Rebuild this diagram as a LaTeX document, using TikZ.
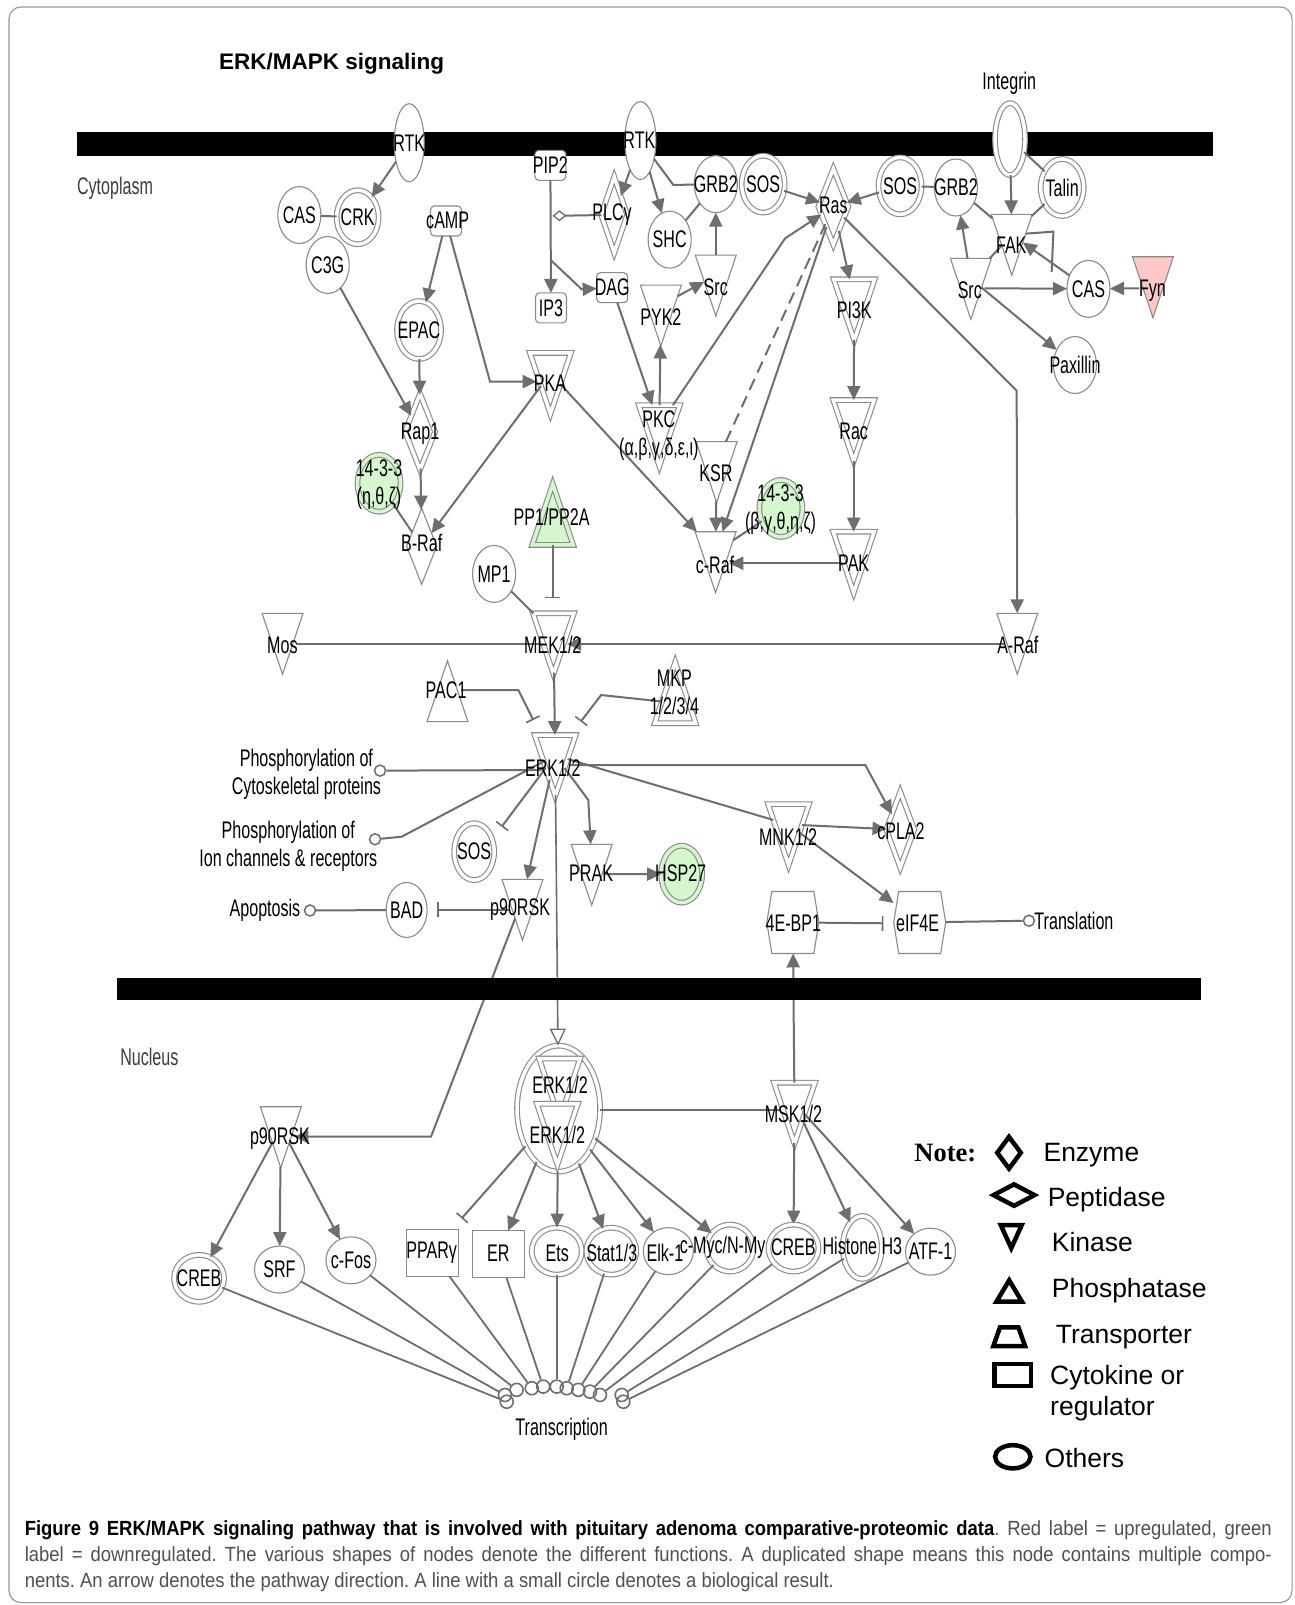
\documentclass[tikz,border=0pt]{standalone}
\usepackage{fontspec}
\setmainfont{Liberation Sans}
\newfontfamily\nar[FakeStretch=0.67]{Liberation Sans}
\newfontfamily\capf[FakeStretch=0.9]{Liberation Sans}
\newfontfamily\notef{Liberation Serif}
\usetikzlibrary{shapes.geometric,arrows.meta}
\pgfdeclarelayer{back}
\pgfdeclarelayer{memba}
\pgfdeclarelayer{conn}
\pgfdeclarelayer{membb}
\pgfdeclarelayer{front}
\pgfdeclarelayer{top}
\pgfsetlayers{back,memba,main,conn,membb,front,top}
\definecolor{ec}{RGB}{110,110,110}
\definecolor{nc}{RGB}{138,138,138}
\definecolor{gfill}{RGB}{214,246,208}
\definecolor{rfill}{RGB}{255,200,200}
\definecolor{txtgray}{RGB}{60,60,60}
\definecolor{capgray}{RGB}{80,80,80}
\tikzset{
  shp/.style={draw=nc, line width=1.1pt, fill=white, inner sep=0pt, outer sep=0pt},
  dbl/.style={double=#1, double distance=3.5pt},
  dbl/.default=white,
  kin/.style={shp, regular polygon, regular polygon sides=3, shape border rotate=180, minimum size=47.3pt, yscale=1.718},
  pho/.style={shp, regular polygon, regular polygon sides=3, minimum size=47.3pt, yscale=1.718},
  enz/.style={shp, diamond, minimum width=30pt, minimum height=76pt},
  oth/.style={shp, ellipse, minimum width=43pt, minimum height=57pt},
  nuo/.style={shp, ellipse, minimum width=50pt, minimum height=47pt},
  chem/.style={shp, rectangle, rounded corners=4pt, minimum width=31pt, minimum height=30pt},
  cyt/.style={shp, rectangle, minimum width=52pt, minimum height=47pt},
  hexa/.style={rectangle, minimum width=52pt, minimum height=62pt, inner sep=0pt, outer sep=0pt},
  rc/.style={circle, draw=ec, line width=1.5pt, fill=white, minimum size=11pt, inner sep=0pt},
  tc/.style={circle, draw=ec, line width=1.6pt, minimum size=13pt, inner sep=0pt},
  lbl/.style={font={\nar\fontsize{24}{28}\selectfont}, inner sep=0pt, align=center},
  ln/.style={draw=ec, line width=2pt},
  arr/.style={ln, -{Triangle[length=14pt,width=13pt]}},
  inh/.style={ln, -{Bar[width=15pt,line width=1.6pt]}},
  oarr/.style={draw=ec, line width=1.6pt, -{Triangle[open,length=17pt,width=16pt,line width=1.3pt]}},
  lgs/.style={draw=black, line width=4.5pt},
  lgt/.style={font=\fontsize{26.5}{30}\selectfont, anchor=west, inner sep=0pt},
  capt/.style={anchor=base west, inner sep=0pt, font={\capf\fontsize{20.5}{25}\selectfont\frenchspacing}},
}
\newcommand\lab[4]{\node[lbl] (#1) at (#2,#3) {#4};}
\begin{document}
\begin{tikzpicture}[x=1.023pt, y=-1.023pt]
\useasboundingbox (0,0) rectangle (1264.9,1568.9);
\begin{pgfonlayer}{back}
\fill[white] (0,0) rectangle (1264.9,1568.9);
\draw[draw=nc!90, line width=1.1pt, rounded corners=12pt] (8.8,6.8) rectangle (1263,1566.5);
\end{pgfonlayer}
\begin{pgfonlayer}{memba}
\fill[black] (75.6,129.4) rectangle (1186,152.5);
\end{pgfonlayer}
\begin{pgfonlayer}{membb}
\fill[black] (114.7,955.8) rectangle (1174,977.5);
\end{pgfonlayer}

% ---------------- nodes: cytoplasm ----------------
\node[shp, ellipse, minimum width=30pt, minimum height=78pt] (RTK1) at (400,139.5) {};
\node[shp, ellipse, minimum width=31pt, minimum height=78pt] (RTK2) at (626,137.4) {};
\node[oth] (CAS1) at (292.6,210.2) {};
\node[oth, dbl, minimum width=42pt, minimum height=54pt] (CRK) at (349.6,212.4) {};
\node[oth] (C3G) at (320.3,259) {};
\node[chem] (cAMP) at (436,216) {};
\node[oth, dbl, minimum width=44pt, minimum height=58pt] (EPAC) at (409.6,322.6) {};
\node[enz, dbl] (Rap1) at (410.6,422) {};
\node[oth, dbl=gfill, fill=gfill] (G1433a) at (370.5,472.4) {};
\node[enz] (BRaf) at (412.2,534) {};
\node[kin, dbl] (PKA) at (538,364.9) {};
\node[chem] (PIP2) at (538,161.6) {};
\node[enz, dbl, minimum width=26pt] (PLC) at (600.4,210) {};
\node[oth] (SHC) at (654.6,234.3) {};
\node[oth] (GRB2a) at (699.7,180) {};
\node[oth, dbl] (SOSa) at (746,180) {};
\node[enz, dbl] (Ras) at (814.6,202) {};
\node[chem] (IP3) at (538.6,301) {};
\node[chem] (DAG) at (598.4,281.2) {};
\node[kin] (PYK2) at (646,298.5) {};
\node[kin] (Src1) at (699.7,269.2) {};
\node[kin, dbl] (PI3K) at (835,292.9) {};
\node[kin, dbl] (PKC) at (644.5,415.9) {};
\node[kin] (KSR) at (700.5,451.6) {};
\node[oth, dbl=gfill, fill=gfill] (G1433b) at (763.3,497) {};
\node[kin] (cRaf) at (699.5,539.6) {};
\node[kin, dbl] (Rac) at (834.5,410.9) {};
\node[kin, dbl] (PAK) at (834.5,539.6) {};
\node[pho, dbl=gfill, fill=gfill] (PP1) at (540.3,512.8) {};
\node[oth] (MP1) at (483,561) {};
\node[oth, dbl] (SOSb) at (879.8,181.7) {};
\node[oth] (GRB2b) at (934.4,183.3) {};
\node[shp, ellipse, dbl, minimum width=30pt, minimum height=72pt] (Integrin) at (987.3,136) {};
\node[oth, dbl] (Talin) at (1038.3,183.3) {};
\node[kin] (FAK) at (989,229.4) {};
\node[kin] (Src2) at (949,272.4) {};
\node[oth] (CAS2) at (1064,282.4) {};
\node[kin, fill=rfill] (Fyn) at (1127,270.8) {};
\node[oth] (Paxillin) at (1050.8,356.8) {};
% ---------------- nodes: middle ----------------
\node[kin] (Mos) at (276.2,619.4) {};
\node[kin, dbl] (MEK) at (541,619.4) {};
\node[kin] (ARaf) at (994.4,619.4) {};
\node[pho] (PAC1) at (437.4,685.6) {};
\node[pho, dbl] (MKP) at (660,687.1) {};
\node[kin, dbl] (ERK) at (542.7,738.4) {};
\node[oth, dbl, minimum width=40pt] (SOSc) at (463.5,832.5) {};
\node[kin] (p90a) at (510.7,879.4) {};
\node[kin] (PRAK) at (578.4,845.2) {};
\node[oth, dbl=gfill, fill=gfill, minimum width=41pt] (HSP27) at (666.3,854.5) {};
\node[kin, dbl] (MNK) at (770.8,805.9) {};
\node[enz, dbl, minimum width=28pt] (cPLA2) at (880,811) {};
\node[oth, minimum width=41pt, minimum height=55pt] (BAD) at (397.5,889.5) {};
\node[hexa] (ebp) at (775,901.7) {};
\node[hexa] (eif) at (899,901.7) {};
\draw[shp] ([xshift=5pt]ebp.north west) -- ([xshift=-5pt]ebp.north east) -- (ebp.east) -- ([xshift=-5pt]ebp.south east) -- ([xshift=5pt]ebp.south west) -- (ebp.west) -- cycle;
\draw[shp] ([xshift=5pt]eif.north west) -- ([xshift=-5pt]eif.north east) -- (eif.east) -- ([xshift=-5pt]eif.south east) -- ([xshift=5pt]eif.south west) -- (eif.west) -- cycle;
\node[rc] (rCyto) at (371.5,753.3) {};
\node[rc] (rIon) at (366.6,820.4) {};
\node[rc] (rApo) at (303,890) {};
\node[rc] (rTr) at (1005.8,900) {};
% ---------------- nodes: nucleus ----------------
\node[shp, ellipse, dbl, minimum width=83pt, minimum height=126pt] (ERKc) at (546,1083.7) {};
\node[kin, dbl] (ERKn1) at (547,1054.6) {};
\node[kin, dbl] (ERKn2) at (544.8,1098.8) {};
\node[kin, dbl] (MSK) at (776.6,1078.2) {};
\node[kin] (p90b) at (274.5,1101.7) {};
\node[nuo, dbl] (CREBa) at (194.6,1249.6) {};
\node[nuo] (SRF) at (273.2,1241) {};
\node[nuo] (cFos) at (343.1,1232) {};
\node[cyt] (PPAR) at (422.4,1224.5) {};
\node[cyt] (ER) at (487.3,1226) {};
\node[nuo, dbl] (Ets) at (544.2,1223) {};
\node[nuo, dbl] (Stat) at (597.6,1223) {};
\node[nuo] (Elk) at (653.3,1223) {};
\node[nuo, dbl, minimum width=47pt] (cMyc) at (713.6,1220) {};
\begin{pgfonlayer}{top}
\node[nuo, dbl] (CREBb) at (775.6,1220) {};
\lab{lCREBb}{775.5}{1219.4}{CREB}
\end{pgfonlayer}
\node[shp, ellipse, dbl, minimum width=39pt, minimum height=63pt] (Hist) at (842.8,1219.4) {};
\node[nuo] (ATF) at (909.6,1223.5) {};
\node[tc] (t1) at (495.3,1370.2) {};
\node[tc] (t2) at (493.6,1363.6) {};
\node[tc] (t3) at (505,1358.6) {};
\node[tc] (t4) at (519.8,1357) {};
\node[tc] (t5) at (531,1355.4) {};
\node[tc] (t6) at (544.2,1355.4) {};
\node[tc] (t7) at (554,1357) {};
\node[tc] (t8) at (565.3,1358.6) {};
\node[tc] (t9) at (576.7,1360.3) {};
\node[tc] (t10) at (586.5,1363.6) {};
\node[tc] (t11) at (607.7,1363.6) {};
\node[tc] (t12) at (609.3,1370.2) {};

% ---------------- connectors ----------------
\begin{pgfonlayer}{conn}
\draw[arr] (RTK1) -- (CRK);
\draw[ln] (CAS1) -- (CRK);
\draw[arr] (C3G) -- (Rap1);
\draw[arr] (cAMP) -- (EPAC);
\draw[arr] (cAMP) -- (479,373) -- (PKA.180 |- 0,373);
\draw[arr] (EPAC) -- (Rap1);
\draw[arr] (Rap1) -- (BRaf);
\draw[arr] (PKA) -- (BRaf);
\draw[ln] (G1433a) -- (BRaf);
\draw[arr] (PKA) -- (cRaf);
\draw[arr] (PIP2) -- (IP3);
\coordinate (brP) at (538.3,254.2);
\draw[arr] (brP) -- (568.6,282.8) -- (DAG);
\coordinate (plcd) at (540,211);
\draw[ln, -{Diamond[open,length=14pt,width=11pt,line width=1.3pt]}] (PLC) -- (plcd);
\draw[arr] (RTK2) -- (PLC);
\draw[arr] (RTK2) -- (SHC);
\draw[ln] (RTK2) -- (658.2,180.8) -- (GRB2a);
\draw[ln] (SHC) -- (GRB2a);
\draw[arr] (SOSa) -- (Ras);
\draw[arr] (Src1) -- (GRB2a);
\draw[arr] (PYK2) -- (Src1);
\draw[arr] (DAG) -- (PKC);
\draw[arr] (PKC) -- (PYK2);
\draw[arr] (PKC) -- (767.4,233) -- (Ras);
\draw[arr] (Ras) -- (cRaf);
\draw[ln, dash pattern=on 12pt off 7pt] (KSR) -- (Ras);
\draw[arr] (KSR) -- (cRaf);
\draw[ln] (G1433b) -- (cRaf);
\draw[arr] (PAK.180 |- 0,550.6) -- (cRaf.0 |- 0,550.6);
\draw[arr] (Ras) -- (PI3K);
\draw[arr] (PI3K) -- (Rac);
\draw[arr] (Rac) -- (PAK);
\draw[arr] (Ras) -- (993.8,381.9) -- (ARaf);
\draw[arr] (SOSb) -- (Ras);
\draw[ln] (SOSb) -- (GRB2b);
\draw[ln] (GRB2b) -- (FAK);
\draw[arr] (Integrin) -- (FAK);
\draw[ln] (Integrin) -- (Talin);
\draw[ln] (Talin) -- (FAK);
\draw[arr] (Src2) -- (GRB2b);
\draw[ln] (Src2) -- (FAK);
\draw[arr] (Src2.0 |- 0,281.8) -- (CAS2);
\draw[arr] (Src2) -- (Paxillin);
\draw[arr] (CAS2) -- (FAK);
\draw[ln] (FAK) -- (1029.7,226.4) -- (1028,266);
\draw[arr] (Fyn.180 |- 0,281.8) -- (CAS2);
% middle
\coordinate (ppbar) at (540.3,585);
\draw[inh] (PP1) -- (ppbar);
\draw[ln] (MP1) -- (MEK);
\draw[ln] (Mos.0 |- 0,629.5) -- (MEK.180 |- 0,629.5);
\draw[arr] (ARaf.180 |- 0,629.5) -- (MEK.0 |- 0,629.5);
\coordinate (pacbar) at (521.3,703.8);
\draw[inh] (PAC1.0 |- 0,674.5) -- (506.7,674.5) -- (pacbar);
\coordinate (mkpbar) at (567.7,705.4);
\draw[inh] (MKP) -- (587.6,679.4) -- (mkpbar);
\draw[arr] (MEK) -- (ERK);
\draw[ln] (ERK.180 |- 0,752.7) -- (rCyto);
\draw[ln] (ERK) -- (392.6,817.9) -- (rIon);
\coordinate (sosbar) at (490.4,808.1);
\draw[inh] (ERK) -- (sosbar);
\draw[arr] (ERK) -- (p90a);
\draw[arr] (ERK) -- (575.1,782) -- (PRAK);
\draw[oarr] (ERK) -- (ERKc);
\draw[arr] (ERK.0 |- 0,747.8) -- (845.8,747.8) -- (cPLA2);
\draw[ln] (ERK) -- (MNK);
\draw[arr] (MNK) -- (cPLA2);
\draw[arr] (MNK) -- (eif);
\draw[arr] (PRAK.0 |- 0,854.4) -- (HSP27);
\coordinate (badbar) at (427.5,889.5);
\draw[inh] (p90a.180 |- 0,889.5) -- (badbar);
\draw[ln] (BAD) -- (rApo);
\coordinate (ebar) at (863.5,902.5);
\draw[inh] (ebp) -- (ebar);
\draw[ln] (eif) -- (rTr);
% nucleus
\draw[arr] (p90a) -- (421.3,1111.1) -- (p90b.0 |- 0,1111.1);
\draw[arr] (p90b) -- (CREBa);
\draw[arr] (p90b) -- (SRF);
\draw[arr] (p90b) -- (cFos);
\draw[ln] (ERKc.0 |- 0,1085.4) -- (MSK.180 |- 0,1085.4);
\draw[arr] (MSK) -- (ebp);
\coordinate (pparbar) at (451.3,1191);
\draw[inh] (ERKc) -- (pparbar);
\draw[arr] (ERKc) -- (ER);
\draw[arr] (ERKc) -- (Ets);
\draw[arr] (ERKc) -- (Stat);
\draw[arr] (ERKc) -- (Elk);
\draw[arr] (ERKc) -- (cMyc);
\draw[arr] (MSK) -- (CREBb);
\draw[arr] (MSK) -- (Hist);
\draw[arr] (MSK) -- (ATF);
\foreach \s/\t in {CREBa/t1, SRF/t2, cFos/t3, PPAR/t4, ER/t5, Ets/t6, Stat/t7, Elk/t8, cMyc/t9, CREBb/t10, Hist/t11, ATF/t12}
  \draw[ln, line width=1.8pt] (\s) -- (\t);
\end{pgfonlayer}

% ---------------- labels ----------------
\begin{pgfonlayer}{front}
\node[font=\bfseries\fontsize{22.5}{27}\selectfont, inner sep=0pt] (title) at (324.2,61.9) {ERK/MAPK signaling};
\node[lbl, text=txtgray] (cyto) at (112.4,184.1) {Cytoplasm};
\node[lbl, text=txtgray] (nucl) at (146,1033) {Nucleus};
\lab{lRTK1}{400}{140}{RTK}
\lab{lRTK2}{625}{137}{RTK}
\lab{lCAS1}{292.6}{210.2}{CAS}
\lab{lCRK}{349.6}{212.4}{CRK}
\lab{lC3G}{320.3}{259}{C3G}
\lab{lcAMP}{437.6}{215}{cAMP}
\lab{lEPAC}{409.6}{322.6}{EPAC}
\lab{lRap1}{410.6}{423.6}{Rap1}
\lab{l1433a}{370.5}{474}{14-3-3\\(η,θ,ζ)}
\lab{lBRaf}{412.2}{531}{B-Raf}
\lab{lPKA}{537.6}{374.8}{PKA}
\lab{lPIP2}{538}{161.6}{PIP2}
\lab{lPLC}{598.3}{210}{PLCγ}
\lab{lSHC}{654.6}{234.3}{SHC}
\lab{lGRB2a}{699.7}{180}{GRB2}
\lab{lSOSa}{746}{180}{SOS}
\lab{lRas}{814.6}{200.4}{Ras}
\lab{lIP3}{538.6}{301}{IP3}
\lab{lDAG}{598.4}{281.2}{DAG}
\lab{lPYK2}{646}{309.6}{PYK2}
\lab{lSrc1}{699.7}{280.6}{Src}
\lab{lPI3K}{835}{303}{PI3K}
\lab{lPKC}{644}{426}{PKC\\(α,β,γ,δ,ε,ι)}
\lab{lKSR}{699.9}{462.6}{KSR}
\lab{l1433b}{763}{498.5}{14-3-3\\(β,γ,θ,η,ζ)}
\lab{lcRaf}{698.9}{552.3}{c-Raf}
\lab{lRac}{834.5}{421.9}{Rac}
\lab{lPAK}{834.5}{551}{PAK}
\lab{lPP1}{539.2}{505}{PP1/PP2A}
\lab{lMP1}{483}{561}{MP1}
\lab{lSOSb}{879.8}{181.7}{SOS}
\lab{lGRB2b}{934.4}{183.3}{GRB2}
\lab{lInt}{986.6}{81.4}{Integrin}
\lab{lTalin}{1038.3}{183.3}{Talin}
\lab{lFAK}{988.5}{239.5}{FAK}
\lab{lSrc2}{948}{283.9}{Src}
\lab{lCAS2}{1064}{282.4}{CAS}
\lab{lFyn}{1126.6}{283.9}{Fyn}
\lab{lPax}{1050.8}{356.8}{Paxillin}
\lab{lMos}{276}{630.6}{Mos}
\lab{lMEK}{540.4}{630.6}{MEK1/2}
\lab{lARaf}{994.9}{630.5}{A-Raf}
\lab{lPAC1}{436}{674.5}{PAC1}
\lab{lMKP}{659.2}{677}{MKP\\1/2/3/4}
\lab{lERK}{540.4}{751.1}{ERK1/2}
\lab{lPhC}{299.5}{756.8}{Phosphorylation of\\Cytoskeletal proteins}
\lab{lPhI}{281.8}{826.9}{Phosphorylation of\\Ion channels \& receptors}
\lab{lSOSc}{463.5}{832.5}{SOS}
\lab{lp90a}{508.4}{889.3}{p90RSK}
\lab{lPRAK}{577.8}{853.9}{PRAK}
\lab{lHSP}{665.4}{853.7}{HSP27}
\lab{lMNK}{770.4}{817.9}{MNK1/2}
\lab{lcPLA}{880.7}{813}{cPLA2}
\lab{lBAD}{397.5}{889.5}{BAD}
\lab{lApo}{259}{889.5}{Apoptosis}
\lab{lebp}{775.5}{902.5}{4E-BP1}
\lab{leif}{897}{902.5}{eIF4E}
\node[lbl, anchor=west] (lTr) at (1011,900) {Translation};
\lab{lERKn1}{547.4}{1060.8}{ERK1/2}
\lab{lERKn2}{544.8}{1108.9}{ERK1/2}
\lab{lMSK}{775.5}{1089}{MSK1/2}
\lab{lp90b}{273.7}{1112.7}{p90RSK}
\lab{lCREBa}{194.6}{1249.6}{CREB}
\lab{lSRF}{273.2}{1241}{SRF}
\lab{lcFos}{343.1}{1232}{c-Fos}
\lab{lPPAR}{422}{1224.5}{PPARγ}
\lab{lER}{487.1}{1224.9}{ER}
\lab{lEts}{544.8}{1224.9}{Ets}
\lab{lStat}{598}{1224.9}{Stat1/3}
\lab{lElk}{650}{1224.9}{Elk-1}
\lab{lcMyc}{710.3}{1219.4}{c-Myc/N-Myc}
\lab{lHist}{843}{1218}{Histone H3}
\lab{lATF}{909.6}{1223.5}{ATF-1}
\lab{lTrans}{549}{1397}{Transcription}

% ---------------- legend ----------------
\node[font={\notef\bfseries\fontsize{26.5}{30}\selectfont}, inner sep=0pt] (note) at (924,1127.4) {Note:};
\draw[lgs] (986.3,1111.3) -- (997.8,1126.8) -- (986.3,1142.3) -- (974.8,1126.8) -- cycle;
\draw[lgs] (971.2,1168.2) -- (991.2,1157.7) -- (1011.2,1168.2) -- (991.2,1178.7) -- cycle;
\draw[lgs] (978.3,1197.6) -- (998.7,1197.6) -- (988.5,1220) -- cycle;
\draw[lgs] (986.5,1251.5) -- (999,1272.4) -- (974,1272.4) -- cycle;
\draw[lgs] (977.5,1297.4) -- (995.5,1297.4) -- (1002,1315.8) -- (971,1315.8) -- cycle;
\draw[lgs] (972.2,1333.2) rectangle (1007.8,1354.8);
\draw[lgs] (990,1424) ellipse [x radius=17.7pt, y radius=11.6pt];
\node[lgt] (tE) at (1019.9,1129) {Enzyme};
\node[lgt] (tP) at (1024,1173) {Peptidase};
\node[lgt] (tK) at (1028,1213.8) {Kinase};
\node[lgt] (tPh) at (1028,1262) {Phosphatase};
\node[lgt] (tT) at (1032,1306.6) {Transporter};
\node[lgt] (tC) at (1026.4,1346.4) {Cytokine or};
\node[lgt] (tR) at (1026.4,1376.7) {regulator};
\node[lgt] (tO) at (1021,1425.6) {Others};

% ---------------- caption ----------------
\node[capt] (cap1) at (24,1501) {\makebox[1247pt][s]{\textbf{Figure 9 ERK/MAPK signaling pathway that is involved with pituitary adenoma comparative-proteomic data}\textcolor{capgray}{. Red label = upregulated, green}}};
\node[capt, text=capgray] (cap2) at (24,1526.5) {\makebox[1247pt][s]{label = downregulated. The various shapes of nodes denote the different functions. A duplicated shape means this node contains multiple compo-}};
\node[capt, text=capgray] (cap3) at (24,1552) {nents. An arrow denotes the pathway direction. A line with a small circle denotes a biological result.};
\end{pgfonlayer}
\end{tikzpicture}
\end{document}
